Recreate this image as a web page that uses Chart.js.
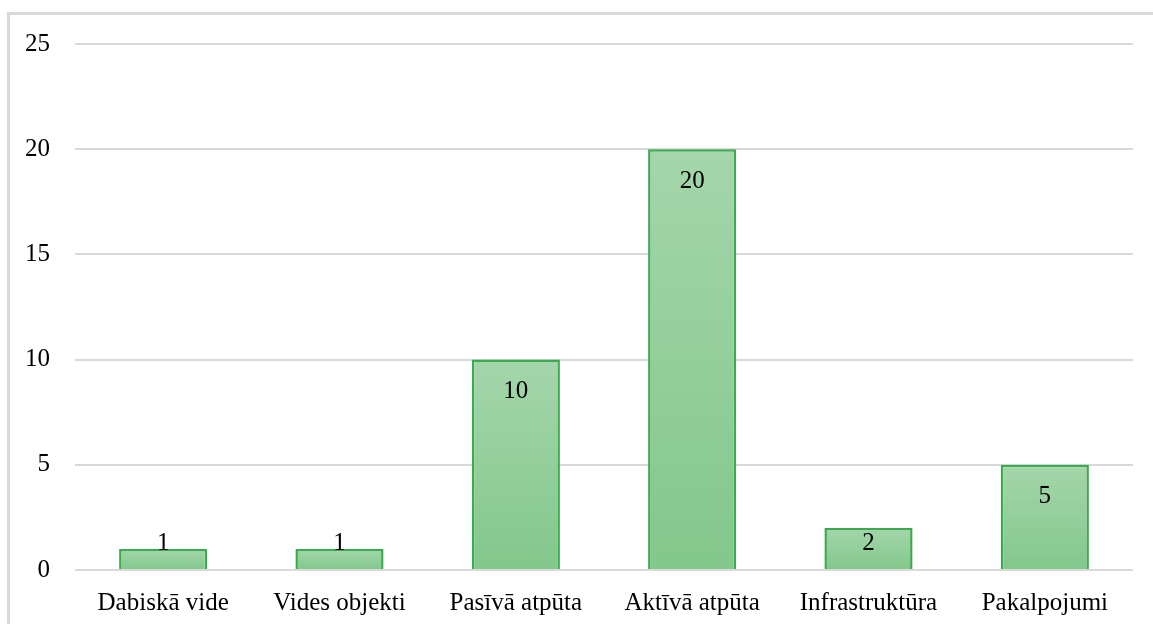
<!DOCTYPE html>
<html>
<head>
<meta charset="utf-8">
<script src="https://cdn.jsdelivr.net/npm/chart.js@4/dist/chart.umd.min.js"></script>
<style>
  html, body { margin: 0; padding: 0; background: #fff; }
  #wrap { position: relative; width: 1153px; height: 624px; overflow: hidden; }
  #frame { position: absolute; left: 7px; top: 12px; width: 1160px; height: 640px;
           border-left: 3px solid #d9d9d9; border-top: 3px solid #d9d9d9; }
  #chart-bars { position: absolute; left: 0; top: 0; }
</style>
</head>
<body>
<div id="wrap">
  <div id="frame"></div>
  <canvas id="chart-bars" width="1153" height="624"></canvas>
</div>
<script>
var categorieen = ["Dabiskā vide", "Vides objekti", "Pasīvā atpūta", "Aktīvā atpūta", "Infrastruktūra", "Pakalpojumi"];
var aantallen = [1, 1, 10, 20, 2, 5];
var yTicks = [0, 5, 10, 15, 20, 25];

var fontFam = "'Liberation Serif', 'Times New Roman', serif";
var fontSize = 25;

// labels binnen de balk, bovenaan (zoals Excel "inside end")
var labelPlugin = {
    id: 'labels',
    afterDatasetsDraw: function (chart) {
        var ctx = chart.ctx;
        var meta = chart.getDatasetMeta(0);
        ctx.save();
        ctx.font = fontSize + "px " + fontFam;
        ctx.fillStyle = "#000";
        ctx.textAlign = "center";
        ctx.textBaseline = "middle";
        meta.data.forEach(function (bar, i) {
            var y = Math.min(bar.y + 32, bar.base - 26);
            ctx.fillText(String(aantallen[i]), bar.x, y);
        });
        ctx.restore();
    }
};

// verloop per balk: licht boven, donkerder onder
function balkKleur(c) {
    var chart = c.chart;
    var y = chart.scales.y;
    if (!y || c.raw === undefined) return "#90cc98";
    var top = y.getPixelForValue(c.raw);
    var bottom = y.getPixelForValue(0);
    if (!isFinite(top) || !isFinite(bottom) || top === bottom) return "#90cc98";
    var g = chart.ctx.createLinearGradient(0, top, 0, bottom);
    g.addColorStop(0, "#a4d6aa");
    g.addColorStop(1, "#82c78c");
    return g;
}

var ctx = document.getElementById("chart-bars").getContext("2d");

var barGraph = new Chart(ctx, {
    type: 'bar',
    data: {
        labels: categorieen,
        datasets: [{
            label: 'aantal',
            data: aantallen,
            backgroundColor: balkKleur,
            borderColor: "#3caa52",
            borderWidth: 2.5,
            borderSkipped: 'bottom',
            barPercentage: 0.5,
            categoryPercentage: 1.0
        }]
    },
    options: {
        responsive: false,
        animation: false,
        layout: { padding: { left: 0, right: 20, top: 44, bottom: 0 } },
        plugins: { legend: { display: false }, tooltip: { enabled: false } },
        scales: {
            x: {
                grid: { display: false, drawTicks: false },
                border: { display: false },
                ticks: { color: "#000", font: { family: fontFam, size: fontSize }, padding: 18, maxRotation: 0 },
                afterFit: function (s) { s.height = 54; }
            },
            y: {
                min: 0, max: 25,
                afterBuildTicks: function (s) { s.ticks = yTicks.map(function (v) { return { value: v }; }); },
                grid: { color: "#d9d9d9", lineWidth: 2, drawTicks: false },
                border: { display: false },
                ticks: { color: "#000", font: { family: fontFam, size: fontSize }, padding: 25 },
                afterFit: function (s) { s.width = 75; }
            }
        }
    },
    plugins: [labelPlugin]
});
</script>
</body>
</html>
